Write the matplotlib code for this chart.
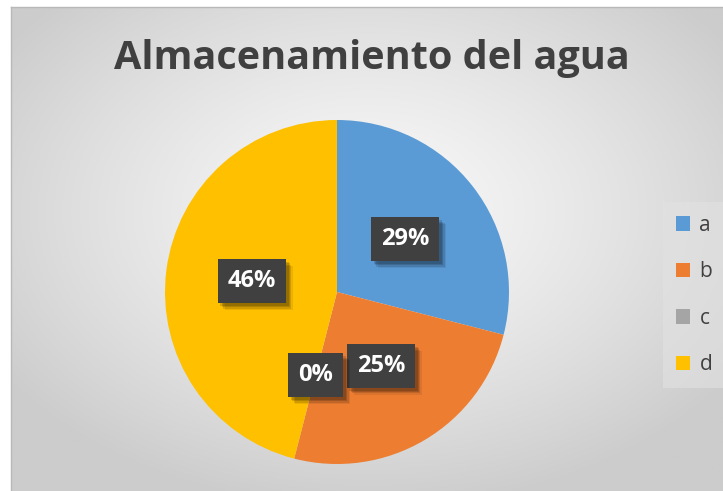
import numpy as np
import matplotlib
matplotlib.use("Agg")
import matplotlib.pyplot as plt
from matplotlib.patches import Patch
import matplotlib.patheffects as pe

categories = ["a", "b", "c", "d"]
values = [29, 25, 0, 46]
colors = ["#5B9BD5", "#ED7D31", "#A5A5A5", "#FFC000"]
title = "Almacenamiento del agua"

plt.rcParams['font.family'] = ['Open Sans', 'DejaVu Sans']

W, H = 723, 491
fig = plt.figure(figsize=(W / 100, H / 100), dpi=100)
fig.patch.set_facecolor("white")

# background gradient panel
bg = fig.add_axes([11 / W, 0, (W - 11) / W, (H - 7) / H])
ny, nx = 200, 300
yy, xx = np.mgrid[0:ny, 0:nx]
cx, cy = nx * 0.50, ny * 0.42
d = np.sqrt(((xx - cx) / (nx * 0.62)) ** 2 + ((yy - cy) / (ny * 0.62)) ** 2)
d = np.clip(d, 0, 1)
lo, hi = 0.975, 0.80
g = hi + (lo - hi) * (1 - d ** 1.3)
img = np.dstack([g, g, g])
bg.imshow(img, aspect="auto", extent=[0, 1, 0, 1], origin="upper")
bg.set_xlim(0, 1)
bg.set_ylim(0, 1)
bg.set_xticks([])
bg.set_yticks([])
for s in ["right", "bottom"]:
    bg.spines[s].set_visible(False)
for s in ["top", "left"]:
    bg.spines[s].set_color("#b8b8b8")
    bg.spines[s].set_linewidth(1.0)

# pie
cxp, cyp, r = 337, 292, 172
ax = fig.add_axes([(cxp - r) / W, (H - cyp - r) / H, 2 * r / W, 2 * r / H])
wedges, texts, autotexts = ax.pie(
    values, colors=colors, startangle=90, counterclock=False,
    autopct=lambda p: f"{p:.0f}%", pctdistance=0.5,
    wedgeprops=dict(linewidth=0),
    textprops=dict(color="white", fontsize=17, fontweight="bold"),
)
ax.set_xlim(-1, 1)
ax.set_ylim(-1, 1)
ax.set_aspect("equal")
ax.axis("off")
shadow = [pe.SimplePatchShadow(offset=(o, -o), shadow_rgbFace="black", alpha=a)
          for o, a in [(5, 0.08), (4, 0.12), (3, 0.15), (2, 0.15)]]
for t in autotexts:
    t.set_bbox(dict(boxstyle="square,pad=0.42", facecolor="#404040", edgecolor="none"))
    t.get_bbox_patch().set_path_effects(shadow + [pe.Normal()])

fig.text(372 / W, 1 - 59 / H, title, ha="center", va="center",
         fontsize=28.5, fontweight="bold", color="#404040")

handles = [Patch(facecolor=c, edgecolor="none") for c in colors]
leg = fig.legend(handles, categories, loc="center left",
                 bbox_to_anchor=(663 / W, 1 - 295 / H), frameon=True,
                 fontsize=15, labelcolor="#404040", labelspacing=1.22,
                 handlelength=0.7, handleheight=0.7, handletextpad=0.45,
                 borderpad=0.6, borderaxespad=0)
leg.get_frame().set_facecolor("#e2e2e2")
leg.get_frame().set_edgecolor("none")
leg.get_frame().set_alpha(0.6)
leg.get_frame().set_boxstyle("square,pad=0")

fig.savefig("out.png", dpi=100)
